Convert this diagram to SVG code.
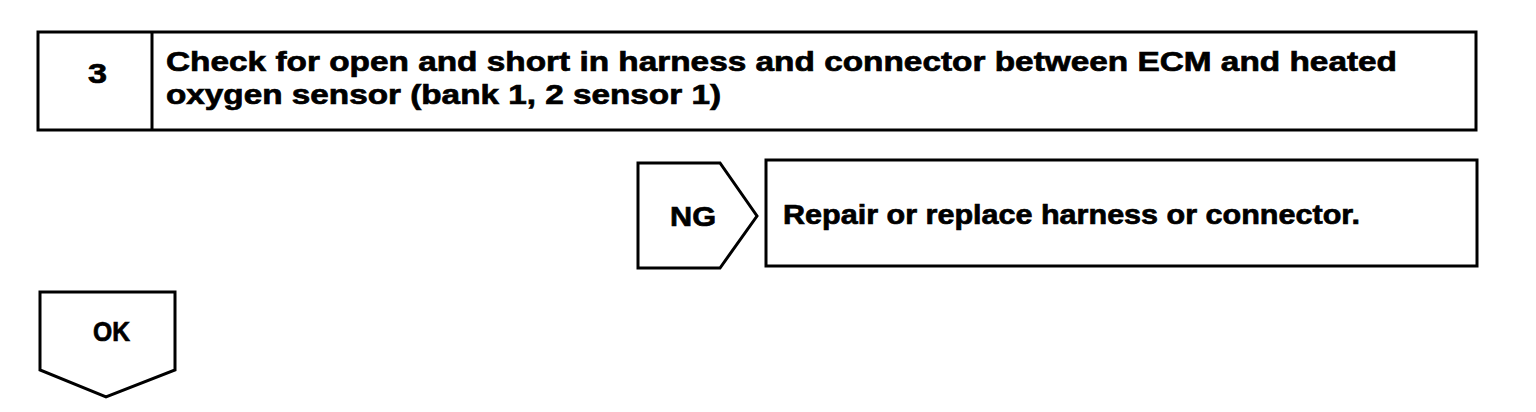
<svg xmlns="http://www.w3.org/2000/svg" width="1536" height="412" viewBox="0 0 1536 412">
<style>
.s{fill:#fff;stroke:#000;stroke-width:3;stroke-linejoin:miter}
.t{font-family:"Liberation Sans",Arial,sans-serif;font-weight:bold;font-size:28px;fill:#000;stroke:#000;stroke-width:0.7}
</style>
<rect width="1536" height="412" fill="#fff"/>
<g id="step3">
<rect class="s" x="38" y="32" width="1438" height="98"/>
<line class="s" x1="152" y1="32" x2="152" y2="130"/>
<text class="t" x="88" y="83" textLength="19" lengthAdjust="spacingAndGlyphs">3</text>
<text class="t" x="166" y="71" textLength="1231" lengthAdjust="spacingAndGlyphs">Check for open and short in harness and connector between ECM and heated</text>
<text class="t" x="166" y="104" textLength="555" lengthAdjust="spacingAndGlyphs">oxygen sensor (bank 1, 2 sensor 1)</text>
</g>
<g id="ng">
<path class="s" d="M638,163 L720,163 L757,216 L720,268 L638,268 Z"/>
<text class="t" x="670" y="226" textLength="46" lengthAdjust="spacingAndGlyphs">NG</text>
</g>
<g id="repair">
<rect class="s" x="766" y="160" width="711" height="106"/>
<text class="t" x="783" y="224" textLength="577" lengthAdjust="spacingAndGlyphs">Repair or replace harness or connector.</text>
</g>
<g id="ok">
<path class="s" d="M40,292 L175,292 L175,370 L106,397 L40,370 Z"/>
<text class="t" x="93" y="341" textLength="37" lengthAdjust="spacingAndGlyphs">OK</text>
</g>
<g id="connectors"></g>
</svg>
